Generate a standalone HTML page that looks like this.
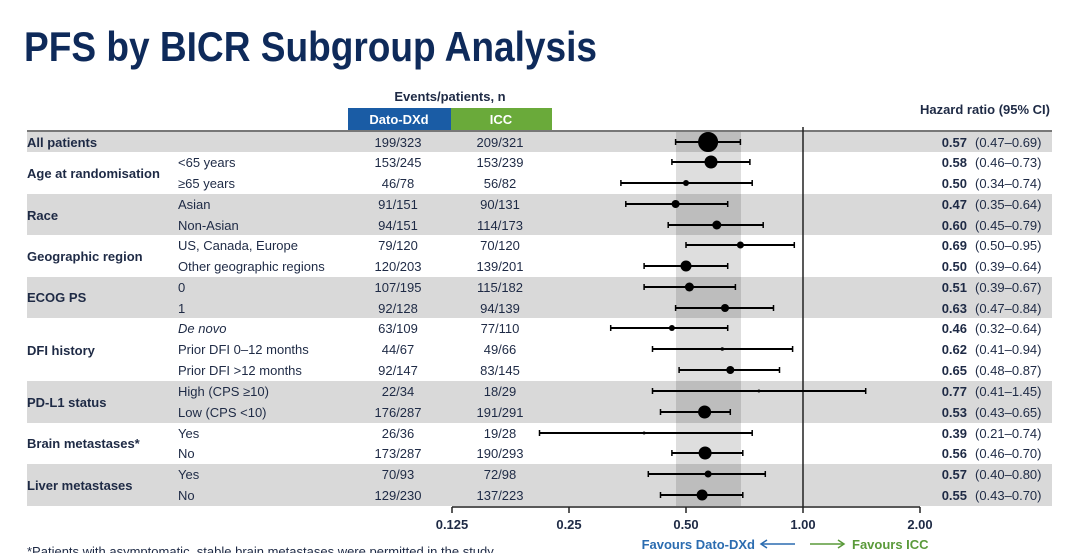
<!DOCTYPE html>
<html><head><meta charset="utf-8"><style>
body{margin:0;background:#fff;width:1080px;height:553px;overflow:hidden}
svg{display:block}
text{font-family:"Liberation Sans Narrow","Liberation Sans",sans-serif;font-size:13px;fill:#1e2a45}
.b{font-weight:bold}
.t{font-family:"Liberation Sans",sans-serif;font-weight:bold;font-size:42px;fill:#0e2a5a}
</style></head><body>
<svg width="1080" height="553" viewBox="0 0 1080 553">
<text x="24" y="61" class="t" textLength="573" lengthAdjust="spacingAndGlyphs">PFS by BICR Subgroup Analysis</text>
<!-- bands -->
<g fill="#d9d9d9">
<rect x="27" y="132" width="1025" height="20"/>
<rect x="27" y="194" width="1025" height="41"/>
<rect x="27" y="277" width="1025" height="41"/>
<rect x="27" y="381" width="1025" height="42"/>
<rect x="27" y="464" width="1025" height="42"/>
</g>
<rect x="676" y="132" width="65" height="374" fill="#000" opacity="0.13"/>
<line x1="27" y1="131" x2="1052" y2="131" stroke="#777" stroke-width="2"/>
<!-- headers -->
<text x="450" y="101" text-anchor="middle" class="b" font-size="12.5">Events/patients, n</text>
<rect x="348" y="108" width="103" height="22" fill="#1a5ca5"/>
<rect x="451" y="108" width="101" height="22" fill="#6aaa3a"/>
<text x="399" y="124" text-anchor="middle" class="b" style="fill:#fff">Dato-DXd</text>
<text x="501" y="124" text-anchor="middle" class="b" style="fill:#fff">ICC</text>
<text x="1050" y="114" text-anchor="end" class="b" font-size="12.5">Hazard ratio (95% CI)</text>
<!-- group labels -->
<g class="b">
<text x="27" y="147" class="b">All patients</text>
<text x="27" y="178" class="b">Age at randomisation</text>
<text x="27" y="220" class="b">Race</text>
<text x="27" y="261" class="b">Geographic region</text>
<text x="27" y="302" class="b">ECOG PS</text>
<text x="27" y="355" class="b">DFI history</text>
<text x="27" y="407" class="b">PD-L1 status</text>
<text x="27" y="448" class="b">Brain metastases*</text>
<text x="27" y="490" class="b">Liver metastases</text>
</g>
<!-- subgroups -->
<g>
<text x="178" y="167">&lt;65 years</text>
<text x="178" y="188">≥65 years</text>
<text x="178" y="209">Asian</text>
<text x="178" y="230">Non-Asian</text>
<text x="178" y="250">US, Canada, Europe</text>
<text x="178" y="271">Other geographic regions</text>
<text x="178" y="292">0</text>
<text x="178" y="313">1</text>
<text x="178" y="333" font-style="italic">De novo</text>
<text x="178" y="354">Prior DFI 0–12 months</text>
<text x="178" y="375">Prior DFI &gt;12 months</text>
<text x="178" y="396">High (CPS ≥10)</text>
<text x="178" y="417">Low (CPS &lt;10)</text>
<text x="178" y="438">Yes</text>
<text x="178" y="458">No</text>
<text x="178" y="479">Yes</text>
<text x="178" y="500">No</text>
</g>
<g text-anchor="middle">
<text x="398" y="147">199/323</text><text x="500" y="147">209/321</text>
<text x="398" y="167">153/245</text><text x="500" y="167">153/239</text>
<text x="398" y="188">46/78</text><text x="500" y="188">56/82</text>
<text x="398" y="209">91/151</text><text x="500" y="209">90/131</text>
<text x="398" y="230">94/151</text><text x="500" y="230">114/173</text>
<text x="398" y="250">79/120</text><text x="500" y="250">70/120</text>
<text x="398" y="271">120/203</text><text x="500" y="271">139/201</text>
<text x="398" y="292">107/195</text><text x="500" y="292">115/182</text>
<text x="398" y="313">92/128</text><text x="500" y="313">94/139</text>
<text x="398" y="333">63/109</text><text x="500" y="333">77/110</text>
<text x="398" y="354">44/67</text><text x="500" y="354">49/66</text>
<text x="398" y="375">92/147</text><text x="500" y="375">83/145</text>
<text x="398" y="396">22/34</text><text x="500" y="396">18/29</text>
<text x="398" y="417">176/287</text><text x="500" y="417">191/291</text>
<text x="398" y="438">26/36</text><text x="500" y="438">19/28</text>
<text x="398" y="458">173/287</text><text x="500" y="458">190/293</text>
<text x="398" y="479">70/93</text><text x="500" y="479">72/98</text>
<text x="398" y="500">129/230</text><text x="500" y="500">137/223</text>
</g>
<!-- HR -->
<g>
<text x="967" y="147" text-anchor="end" class="b">0.57</text><text x="975" y="147">(0.47–0.69)</text>
<text x="967" y="167" text-anchor="end" class="b">0.58</text><text x="975" y="167">(0.46–0.73)</text>
<text x="967" y="188" text-anchor="end" class="b">0.50</text><text x="975" y="188">(0.34–0.74)</text>
<text x="967" y="209" text-anchor="end" class="b">0.47</text><text x="975" y="209">(0.35–0.64)</text>
<text x="967" y="230" text-anchor="end" class="b">0.60</text><text x="975" y="230">(0.45–0.79)</text>
<text x="967" y="250" text-anchor="end" class="b">0.69</text><text x="975" y="250">(0.50–0.95)</text>
<text x="967" y="271" text-anchor="end" class="b">0.50</text><text x="975" y="271">(0.39–0.64)</text>
<text x="967" y="292" text-anchor="end" class="b">0.51</text><text x="975" y="292">(0.39–0.67)</text>
<text x="967" y="313" text-anchor="end" class="b">0.63</text><text x="975" y="313">(0.47–0.84)</text>
<text x="967" y="333" text-anchor="end" class="b">0.46</text><text x="975" y="333">(0.32–0.64)</text>
<text x="967" y="354" text-anchor="end" class="b">0.62</text><text x="975" y="354">(0.41–0.94)</text>
<text x="967" y="375" text-anchor="end" class="b">0.65</text><text x="975" y="375">(0.48–0.87)</text>
<text x="967" y="396" text-anchor="end" class="b">0.77</text><text x="975" y="396">(0.41–1.45)</text>
<text x="967" y="417" text-anchor="end" class="b">0.53</text><text x="975" y="417">(0.43–0.65)</text>
<text x="967" y="438" text-anchor="end" class="b">0.39</text><text x="975" y="438">(0.21–0.74)</text>
<text x="967" y="458" text-anchor="end" class="b">0.56</text><text x="975" y="458">(0.46–0.70)</text>
<text x="967" y="479" text-anchor="end" class="b">0.57</text><text x="975" y="479">(0.40–0.80)</text>
<text x="967" y="500" text-anchor="end" class="b">0.55</text><text x="975" y="500">(0.43–0.70)</text>
</g>
<!-- axis -->
<line x1="803" y1="127" x2="803" y2="507" stroke="#222" stroke-width="1.5"/>
<line x1="452" y1="507" x2="920" y2="507" stroke="#222" stroke-width="1.5"/>
<g stroke="#222" stroke-width="1.5">
<line x1="452" y1="507" x2="452" y2="513"/><line x1="569" y1="507" x2="569" y2="513"/>
<line x1="686" y1="507" x2="686" y2="513"/><line x1="803" y1="507" x2="803" y2="513"/>
<line x1="920" y1="507" x2="920" y2="513"/>
</g>
<g text-anchor="middle" class="b">
<text x="452" y="529" class="b">0.125</text><text x="569" y="529" class="b">0.25</text>
<text x="686" y="529" class="b">0.50</text><text x="803" y="529" class="b">1.00</text>
<text x="920" y="529" class="b">2.00</text>
</g>
<text x="755" y="549" text-anchor="end" class="b" style="fill:#2b6cb0">Favours Dato-DXd</text>
<line x1="762" y1="544" x2="795" y2="544" stroke="#2b6cb0" stroke-width="1.5"/>
<path d="M767 540 L761 544 L767 548" fill="none" stroke="#2b6cb0" stroke-width="1.5"/>
<line x1="810" y1="544" x2="843" y2="544" stroke="#5a9a3a" stroke-width="1.5"/>
<path d="M838 540 L844 544 L838 548" fill="none" stroke="#5a9a3a" stroke-width="1.5"/>
<text x="852" y="549" class="b" style="fill:#5a9a3a">Favours ICC</text>
<text x="27" y="556" font-size="10">*Patients with asymptomatic, stable brain metastases were permitted in the study.</text>
<!-- forest -->
<g stroke="#000" stroke-width="2" fill="#000">
<line x1="675.6" y1="142" x2="740.4" y2="142"/><circle cx="708.1" cy="142" r="9"/>
<line x1="671.9" y1="162" x2="749.9" y2="162"/><circle cx="711" cy="162" r="6.5" stroke="none"/>
<line x1="620.9" y1="183" x2="752.2" y2="183"/><circle cx="686" cy="183" r="3" stroke="none"/>
<line x1="625.8" y1="204" x2="727.7" y2="204"/><circle cx="675.6" cy="204" r="4" stroke="none"/>
<line x1="668.2" y1="225" x2="763.2" y2="225"/><circle cx="716.8" cy="225" r="4.5" stroke="none"/>
<line x1="686" y1="245" x2="794.3" y2="245"/><circle cx="740.4" cy="245" r="3.5" stroke="none"/>
<line x1="644.1" y1="266" x2="727.7" y2="266"/><circle cx="686" cy="266" r="5.5" stroke="none"/>
<line x1="644.1" y1="287" x2="735.4" y2="287"/><circle cx="689.4" cy="287" r="4.5" stroke="none"/>
<line x1="675.6" y1="308" x2="773.5" y2="308"/><circle cx="725" cy="308" r="4" stroke="none"/>
<line x1="610.7" y1="328" x2="727.7" y2="328"/><circle cx="671.9" cy="328" r="3" stroke="none"/>
<line x1="652.5" y1="349" x2="792.6" y2="349"/><circle cx="722.3" cy="349" r="1.8" stroke="none"/>
<line x1="679.1" y1="370" x2="779.5" y2="370"/><circle cx="730.3" cy="370" r="4" stroke="none"/>
<line x1="652.5" y1="391" x2="865.7" y2="391"/><circle cx="758.9" cy="391" r="1.5" stroke="none"/>
<line x1="660.5" y1="412" x2="730.3" y2="412"/><circle cx="704.6" cy="412" r="6.5" stroke="none"/>
<line x1="539.5" y1="433" x2="752.2" y2="433"/><circle cx="644.1" cy="433" r="1.5" stroke="none"/>
<line x1="671.9" y1="453" x2="742.8" y2="453"/><circle cx="705.1" cy="453" r="6.5" stroke="none"/>
<line x1="648.3" y1="474" x2="765.3" y2="474"/><circle cx="708.1" cy="474" r="3.5" stroke="none"/>
<line x1="660.5" y1="495" x2="742.8" y2="495"/><circle cx="702.1" cy="495" r="5.5" stroke="none"/>
</g>
<g stroke="#000" stroke-width="1.5">
<path d="M675.6 139v6M740.4 139v6M671.9 159v6M749.9 159v6M620.9 180v6M752.2 180v6M625.8 201v6M727.7 201v6M668.2 222v6M763.2 222v6M686 242v6M794.3 242v6M644.1 263v6M727.7 263v6M644.1 284v6M735.4 284v6M675.6 305v6M773.5 305v6M610.7 325v6M727.7 325v6M652.5 346v6M792.6 346v6M679.1 367v6M779.5 367v6M652.5 388v6M865.7 388v6M660.5 409v6M730.3 409v6M539.5 430v6M752.2 430v6M671.9 450v6M742.8 450v6M648.3 471v6M765.3 471v6M660.5 492v6M742.8 492v6"/>
</g>
</svg>
</body></html>
